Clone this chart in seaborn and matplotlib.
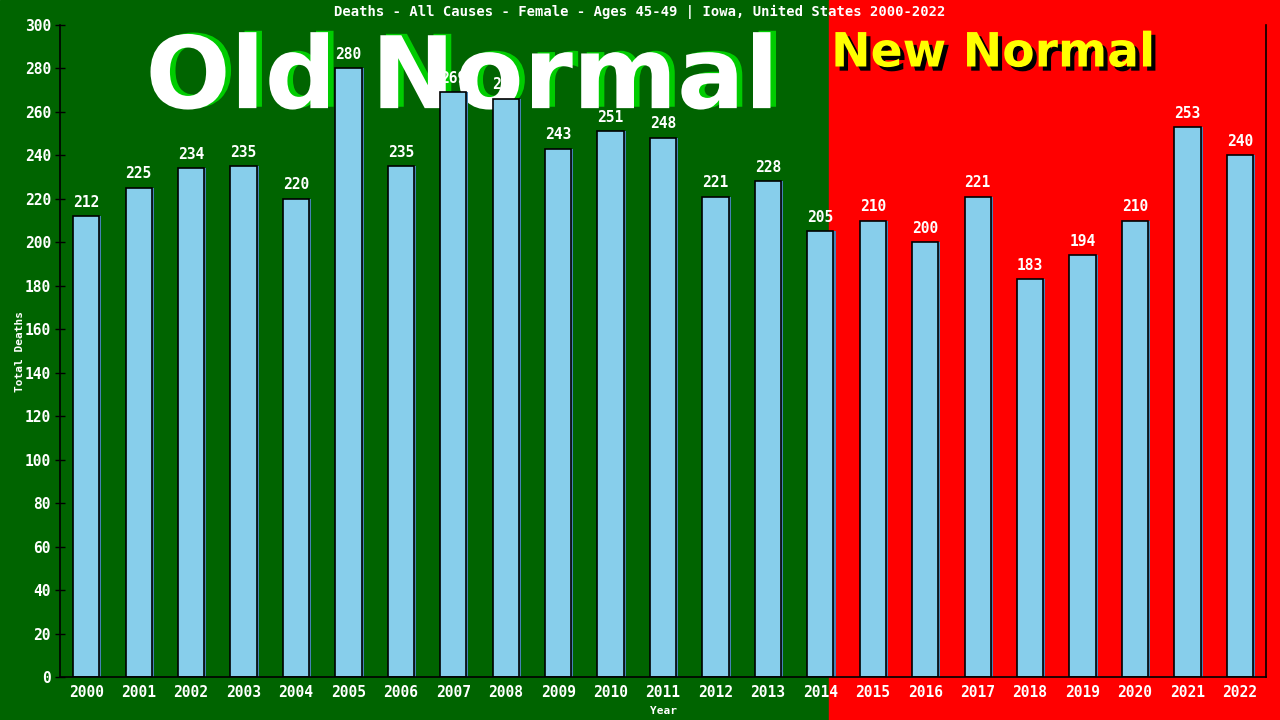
import matplotlib
matplotlib.use("Agg")
import matplotlib.pyplot as plt
import matplotlib.patheffects as pe
from matplotlib.patches import Rectangle
import pandas as pd
import seaborn as sns

years = [str(y) for y in range(2000, 2023)]
deaths = [212, 225, 234, 235, 220, 280, 235, 269, 266, 243, 251, 248,
          221, 228, 205, 210, 200, 221, 183, 194, 210, 253, 240]
title = "Deaths - All Causes - Female - Ages 45-49 | Iowa, United States 2000-2022"

df = pd.DataFrame({"Year": years, "Deaths": deaths})

sns.set_theme(style="white")
plt.rcParams["font.family"] = ["DejaVu Sans Mono", "DejaVu Sans"]

fig = plt.figure(figsize=(12.8, 7.2), dpi=100)
# background halves
fig.patches.append(Rectangle((0, 0), 0.648, 1, transform=fig.transFigure,
                             color="#006400", zorder=-10))
fig.patches.append(Rectangle((0.648, 0), 0.352, 1, transform=fig.transFigure,
                             color="#FF0000", zorder=-10))

# big headline words sit behind the bars
fig.text(0.361, 0.888, "Old Normal", ha="center", va="center", color="white",
         fontsize=72, fontweight="bold", family="DejaVu Sans", zorder=-5,
         path_effects=[pe.withSimplePatchShadow(offset=(4, 1), shadow_rgbFace="#00CC00", alpha=1)])
fig.text(0.776, 0.925, "New Normal", ha="center", va="center", color="#FFFF00",
         fontsize=34, fontweight="bold", family="DejaVu Sans", zorder=-5,
         path_effects=[pe.withSimplePatchShadow(offset=(3, -3), shadow_rgbFace="black", alpha=1)])

ax = fig.add_axes([0.0469, 0.0597, 0.9422, 0.9056])
ax.patch.set_alpha(0)

sns.barplot(data=df, x="Year", y="Deaths", color="#87CEEB", saturation=1,
            width=0.5, edgecolor="black", linewidth=1.2, ax=ax, zorder=2)
for bar in ax.patches:
    bar.set_path_effects([pe.SimplePatchShadow(offset=(1.5, 0), shadow_rgbFace="#4682B4", alpha=1),
                          pe.Normal()])

for bar, v in zip(ax.patches, deaths):
    ax.text(bar.get_x() + bar.get_width() / 2, v + 3, str(v), ha="center", va="bottom",
            color="white", fontsize=10.5, fontweight="semibold", zorder=3)

ax.set_ylim(0, 300)
ax.set_xlim(-0.5, len(years) - 0.5)
ax.set_yticks(range(0, 301, 20))
ax.tick_params(axis="y", colors="black", labelcolor="white", labelsize=10.5,
               direction="inout", length=7, width=1, left=True, pad=3)
ax.tick_params(axis="x", labelcolor="white", labelsize=10.5, bottom=False, pad=0)
for lab in ax.get_xticklabels() + ax.get_yticklabels():
    lab.set_fontweight("semibold")
for s in ["left", "bottom", "right"]:
    ax.spines[s].set_color("black")
    ax.spines[s].set_linewidth(1.2)
ax.spines["top"].set_visible(False)

ax.set_xlabel("Year", color="white", fontsize=8, fontweight="bold", labelpad=4)
ax.set_ylabel("Total Deaths", color="white", fontsize=8, fontweight="bold", labelpad=0)

fig.text(0.5, 0.983, title, ha="center", va="center", color="white",
         fontsize=10, fontweight="bold")

fig.savefig("out.png", dpi=100)
